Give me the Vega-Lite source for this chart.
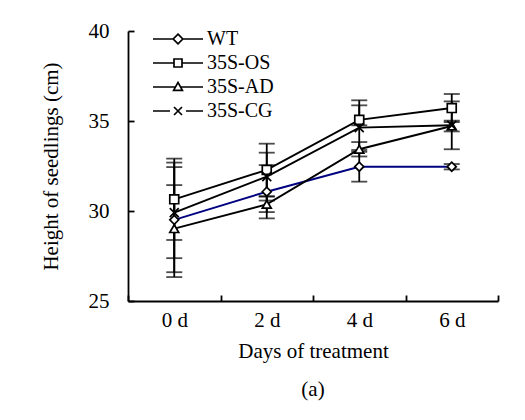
{
  "$schema": "https://vega.github.io/schema/vega-lite/v6.json",
  "width": 370,
  "height": 270,
  "autosize": "none",
  "padding": {"left": 128, "top": 31, "right": 27, "bottom": 119},
  "background": "white",
  "config": {
    "view": {"stroke": null},
    "font": "Liberation Serif",
    "axis": {
      "labelFont": "Liberation Serif",
      "titleFont": "Liberation Serif",
      "labelColor": "black",
      "titleColor": "black",
      "titleFontWeight": "normal",
      "labelFontSize": 21,
      "titleFontSize": 21,
      "domainColor": "black",
      "tickColor": "black",
      "domainWidth": 1.8,
      "tickWidth": 1.8,
      "grid": false
    },
    "legend": {"labelFont": "Liberation Serif"}
  },
  "title": {"text": "(a)", "orient": "bottom", "anchor": "middle", "fontSize": 21, "font": "Liberation Serif", "fontWeight": "normal", "color": "black", "offset": 18},
  "data": {
    "values": [
      {"day": "0 d", "series": "WT", "mean": 29.51, "lo": 26.33, "hi": 32.69},
      {"day": "2 d", "series": "WT", "mean": 31.07, "lo": 29.59, "hi": 32.55},
      {"day": "4 d", "series": "WT", "mean": 32.46, "lo": 31.63, "hi": 33.29},
      {"day": "6 d", "series": "WT", "mean": 32.46, "lo": 32.31, "hi": 32.61},
      {"day": "0 d", "series": "35S-OS", "mean": 30.65, "lo": 28.39, "hi": 32.91},
      {"day": "2 d", "series": "35S-OS", "mean": 32.28, "lo": 30.82, "hi": 33.74},
      {"day": "4 d", "series": "35S-OS", "mean": 35.06, "lo": 34.76, "hi": 36.15},
      {"day": "6 d", "series": "35S-OS", "mean": 35.72, "lo": 34.94, "hi": 36.5},
      {"day": "0 d", "series": "35S-AD", "mean": 29.02, "lo": 26.6, "hi": 31.44},
      {"day": "2 d", "series": "35S-AD", "mean": 30.37, "lo": 29.94, "hi": 30.8},
      {"day": "4 d", "series": "35S-AD", "mean": 33.43, "lo": 33.03, "hi": 33.83},
      {"day": "6 d", "series": "35S-AD", "mean": 34.72, "lo": 34.42, "hi": 35.02},
      {"day": "0 d", "series": "35S-CG", "mean": 29.91, "lo": 27.38, "hi": 32.44},
      {"day": "2 d", "series": "35S-CG", "mean": 31.91, "lo": 30.58, "hi": 33.24},
      {"day": "4 d", "series": "35S-CG", "mean": 34.63, "lo": 33.39, "hi": 35.87},
      {"day": "6 d", "series": "35S-CG", "mean": 34.76, "lo": 33.43, "hi": 36.09}
    ]
  },
  "encoding": {
    "x": {
      "field": "day",
      "type": "nominal",
      "scale": {"type": "band", "domain": ["0 d", "2 d", "4 d", "6 d"], "paddingInner": 0, "paddingOuter": 0},
      "axis": {"title": "Days of treatment", "labelAngle": 0, "tickBand": "extent", "tickSize": -6, "labelPadding": 14, "titlePadding": 10}
    }
  },
  "layer": [
    {
      "mark": {"type": "line", "strokeWidth": 1.9},
      "encoding": {
        "y": {
          "field": "mean",
          "type": "quantitative",
          "scale": {"domain": [25, 40], "nice": false, "zero": false},
          "axis": {"title": "Height of seedlings (cm)", "values": [25, 30, 35, 40], "tickSize": -6, "labelPadding": 25, "titlePadding": 27}
        },
        "color": {
          "field": "series",
          "type": "nominal",
          "scale": {"domain": ["WT", "35S-OS", "35S-AD", "35S-CG"], "range": ["#000080", "black", "black", "black"]},
          "legend": null
        }
      }
    },
    {
      "mark": {"type": "rule", "strokeWidth": 1.8, "color": "black"},
      "encoding": {
        "y": {"field": "lo", "type": "quantitative"},
        "y2": {"field": "hi"}
      }
    },
    {
      "mark": {"type": "tick", "size": 16, "thickness": 1.8, "color": "black"},
      "encoding": {"y": {"field": "lo", "type": "quantitative"}}
    },
    {
      "mark": {"type": "tick", "size": 16, "thickness": 1.8, "color": "black"},
      "encoding": {"y": {"field": "hi", "type": "quantitative"}}
    },
    {
      "mark": {"type": "point", "filled": true, "fill": "white", "stroke": "black", "strokeWidth": 1.7, "size": 80, "opacity": 1},
      "encoding": {
        "y": {"field": "mean", "type": "quantitative"},
        "shape": {
          "field": "series",
          "type": "nominal",
          "scale": {"domain": ["WT", "35S-OS", "35S-AD", "35S-CG"], "range": ["diamond", "square", "triangle-up", "M-1,-1L1,1M-1,1L1,-1"]},
          "legend": null
        }
      }
    },
    {
      "transform": [{"filter": "false"}],
      "mark": {"type": "point", "filled": false, "stroke": "black", "strokeWidth": 1.7, "opacity": 1},
      "encoding": {
        "y": {"field": "mean", "type": "quantitative"},
        "shape": {
          "field": "series",
          "type": "nominal",
          "scale": {
            "domain": ["WT", "35S-OS", "35S-AD", "35S-CG"],
            "range": [
              "M-6.25,0L-1.2,0M1.2,0L6.25,0M0,-1.2L1.2,0L0,1.2L-1.2,0Z",
              "M-6.25,0L-1,0M1,0L6.25,0M-1,-1L1,-1L1,1L-1,1Z",
              "M-6.25,0L-0.6,0M0.6,0L6.25,0M0,-1.15L1.1,0.85L-1.1,0.85Z",
              "M-6.25,0L-2,0M2,0L6.25,0M-1,-1L1,1M-1,1L1,-1"
            ]
          },
          "legend": {"title": null, "orient": "none", "legendX": 40, "legendY": -2, "padding": 0, "symbolSize": 64, "labelOffset": 19, "labelFontSize": 20, "labelColor": "black", "rowPadding": 4, "symbolFillColor": "white", "symbolStrokeColor": "black", "symbolStrokeWidth": 1.7, "symbolOpacity": 1}
        }
      }
    }
  ],
  "resolve": {"scale": {"shape": "independent"}}
}
